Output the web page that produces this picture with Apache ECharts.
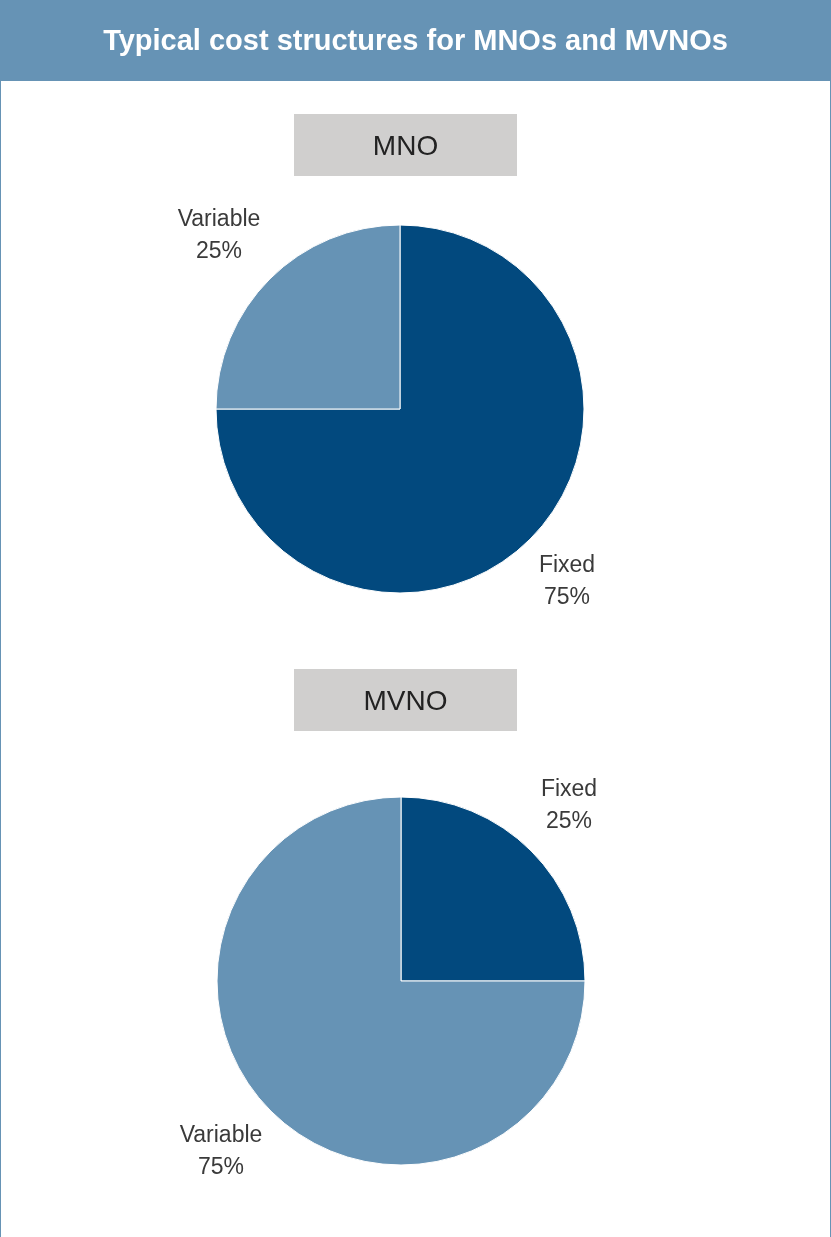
<!DOCTYPE html>
<html>
<head>
<meta charset="utf-8">
<title>Typical cost structures for MNOs and MVNOs</title>
<script src="https://cdn.jsdelivr.net/npm/echarts@6/dist/echarts.min.js"></script>
<style>
  html, body { margin: 0; padding: 0; background: #ffffff; }
  #chart { width: 831px; height: 1237px; }
</style>
</head>
<body>
<div id="chart"></div>
<script>
// Cost split (percent of total cost) per operator type
const titleText = 'Typical cost structures for MNOs and MVNOs';
const panelNames = ['MNO', 'MVNO'];
const costCategories = ['Fixed', 'Variable'];
const mnoShares = [75, 25];
const mvnoShares = [25, 75];

const DARK = '#02497e';
const LIGHT = '#6693b5';
const FONT = '"Liberation Sans", Arial, sans-serif';

function pieData(values) {
  return costCategories.map((name, i) => ({
    name: name,
    value: values[i],
    itemStyle: { color: name === 'Fixed' ? DARK : LIGHT }
  }));
}

// Label anchor points (centre of the two-line label), in category order Fixed, Variable
const labelSpots = [
  [[567, 582], [219, 236]],
  [[569, 806], [221, 1152]]
];

function makePie(values, center, spots) {
  return {
    type: 'pie',
    center: center,
    radius: 184,
    startAngle: 90,
    clockwise: true,
    silent: true,
    animation: false,
    data: pieData(values),
    itemStyle: { borderColor: '#ffffff', borderWidth: 1 },
    label: {
      show: true,
      position: 'outside',
      formatter: '{b}\n{c}%',
      fontFamily: FONT,
      fontSize: 23,
      lineHeight: 32,
      color: '#3a3a3a',
      align: 'center'
    },
    labelLine: { show: false },
    labelLayout: function (p) {
      const s = spots[p.dataIndex];
      return { x: s[0], y: s[1], align: 'center', verticalAlign: 'middle' };
    }
  };
}

const chart = echarts.init(document.getElementById('chart'), null, { renderer: 'canvas' });

chart.setOption({
  backgroundColor: '#ffffff',
  animation: false,
  title: {
    text: titleText,
    left: 'center',
    top: 22,
    textStyle: { color: '#ffffff', fontFamily: FONT, fontWeight: 'bold', fontSize: 29 }
  },
  graphic: [
    { type: 'rect', z: -10, shape: { x: 0, y: 0, width: 831, height: 81 }, style: { fill: LIGHT } },
    { type: 'line', z: -10, shape: { x1: 0.5, y1: 81, x2: 0.5, y2: 1237 }, style: { stroke: LIGHT, lineWidth: 1 } },
    { type: 'line', z: -10, shape: { x1: 830.5, y1: 81, x2: 830.5, y2: 1237 }, style: { stroke: LIGHT, lineWidth: 1 } },
    {
      type: 'group', left: 294, top: 114,
      children: [
        { type: 'rect', shape: { x: 0, y: 0, width: 223, height: 62 }, style: { fill: '#d0cfce' } },
        { type: 'text', x: 111.5, y: 33, style: { text: panelNames[0], fill: '#222222', font: '28px ' + FONT, align: 'center', verticalAlign: 'middle' } }
      ]
    },
    {
      type: 'group', left: 294, top: 669,
      children: [
        { type: 'rect', shape: { x: 0, y: 0, width: 223, height: 62 }, style: { fill: '#d0cfce' } },
        { type: 'text', x: 111.5, y: 33, style: { text: panelNames[1], fill: '#222222', font: '28px ' + FONT, align: 'center', verticalAlign: 'middle' } }
      ]
    }
  ],
  series: [
    makePie(mnoShares, [400, 409], labelSpots[0]),
    makePie(mvnoShares, [401, 981], labelSpots[1])
  ]
});
</script>
</body>
</html>
